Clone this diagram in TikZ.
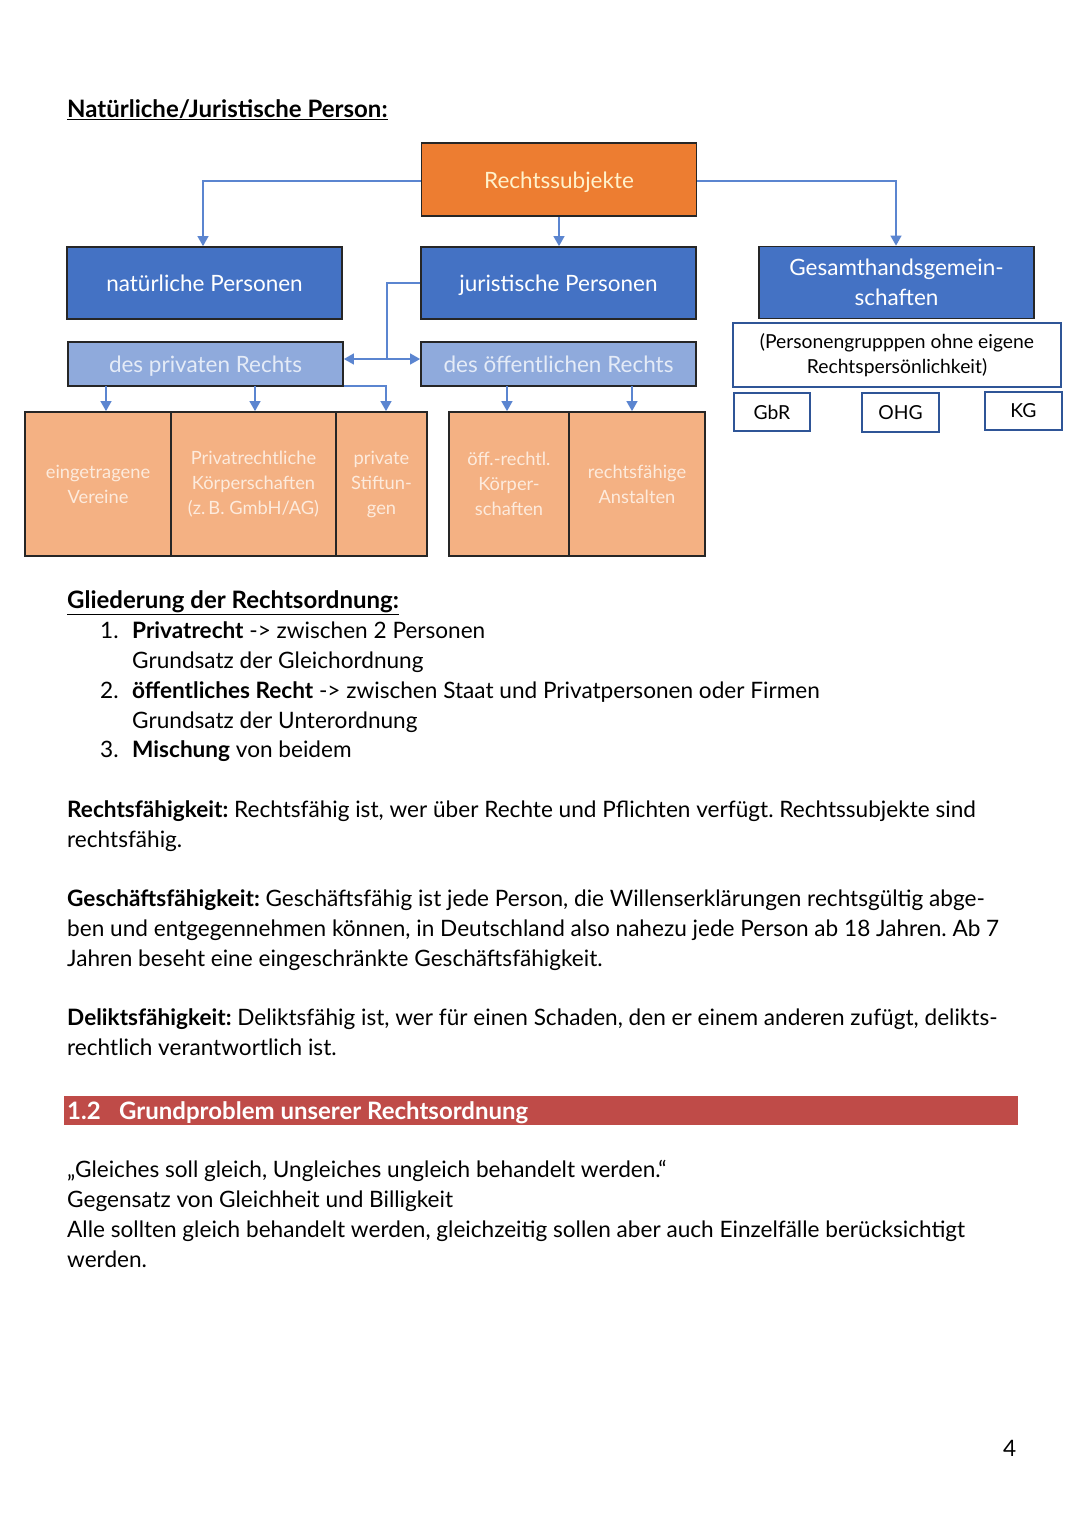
\documentclass[tikz,border=0pt]{standalone}
\usepackage{fontspec}
\setmainfont{Lato}
\usetikzlibrary{arrows.meta}
\definecolor{corange}{HTML}{ED7D31}
\definecolor{cblue}{HTML}{4472C4}
\definecolor{clblue}{HTML}{8FAADC}
\definecolor{cpeach}{HTML}{F4B183}
\definecolor{cline}{HTML}{5B85D0}
\definecolor{cred}{HTML}{BF4B48}
\definecolor{tyellow}{HTML}{FFF2CC}
\definecolor{tpeach}{HTML}{FDEBDD}
\definecolor{tlblue}{HTML}{E4EBF7}
\definecolor{cframe}{HTML}{2F5597}
\frenchspacing
\begin{document}
\begin{tikzpicture}[x=1pt,y=-1pt,
  box/.style={draw=black!85, line width=1.8pt, inner sep=0pt, align=center},
  topbox/.style={box, fill=corange, text=tyellow, minimum width=275pt, minimum height=73pt, text height=17pt, text depth=0pt, font=\fontsize{22.5}{28}\selectfont},
  bluebox/.style={box, fill=cblue, text=white, minimum width=275pt, minimum height=72pt, font=\fontsize{22.5}{30}\selectfont},
  lbox/.style={box, fill=clblue, text=tlblue, minimum width=275pt, minimum height=44pt, text height=16pt, text depth=0pt, font=\fontsize{22.5}{28}\selectfont},
  pbox/.style={box, fill=cpeach, text=tpeach, minimum height=144pt, font=\fontsize{18.3}{25}\selectfont},
  wbox/.style={draw=cframe, line width=1.5pt, fill=white, inner sep=0pt, align=center, font=\fontsize{19.3}{25}\selectfont},
  conn/.style={draw=cline, line width=1.3pt},
  arr/.style={conn, -{Triangle[width=11pt,length=10pt]}},
  txt/.style={inner sep=0pt, anchor=base west, font=\fontsize{22.6}{30}\selectfont},
  head/.style={txt, font=\fontsize{24}{30}\selectfont\bfseries},
]
\useasboundingbox (0,0) rectangle (1080,1527);
\fill[white] (0,0) rectangle (1080,1527);

% heading
\node[head] (h1) at (67,117) {\underline{Natürliche/Juristische Person:}};

% boxes
\node[topbox] (rs) at (559,179.5) {Rechtssubjekte};
\node[bluebox] (np) at (204.5,283) {natürliche Personen};
\node[bluebox, text height=16pt, text depth=0pt] (jp) at (558.5,283) {juristische Personen};
\node[bluebox] (gh) at (896.5,282.5) {Gesamthandsgemein-\\schaften};
\node[lbox] (pr) at (205.5,364) {des privaten Rechts};
\node[lbox] (oe) at (558.5,364) {des öffentlichen Rechts};
\node[wbox, minimum width=328pt, minimum height=64pt] (pg) at (897,355) {(Personengrupppen ohne eigene\\Rechtspersönlichkeit)};
\node[wbox, minimum width=76pt, minimum height=38pt] (gbr) at (772,412) {GbR};
\node[wbox, minimum width=77pt, minimum height=39pt] (ohg) at (900.5,412.5) {OHG};
\node[wbox, minimum width=77pt, minimum height=38pt] (kg) at (1023.5,411) {KG};

\node[pbox, minimum width=146pt] (ev) at (98,484) {eingetragene\\Vereine};
\node[pbox, minimum width=165pt] (pk) at (253.5,484) {Privatrechtliche\\Körperschaften\\(z.\,B. GmbH/AG)};
\node[pbox, minimum width=91pt] (ps) at (381.5,484) {private\\Stiftun-\\gen};
\node[pbox, minimum width=120pt] (ok) at (509,484) {öff.-rechtl.\\Körper-\\schaften};
\node[pbox, minimum width=136pt] (ra) at (637,484) {rechtsfähige\\Anstalten};

% connectors
\coordinate (c1) at (203,181);
\coordinate (c2) at (896,181);
\coordinate (c3) at (387,283);
\coordinate (c4) at (387,359);
\coordinate (c5) at (386,386);
\draw[arr] (rs.west |- c1) -| (np.north -| c1);
\draw[arr] (rs.east |- c2) -| (gh.north -| c2);
\draw[arr] (rs.south) -- (jp.north -| rs.south);
\draw[conn] (jp.west) -- (c3) -- (c4);
\draw[arr] (c4) -- (pr.east |- c4);
\draw[arr] (c4) -- (oe.west |- c4);
\draw[arr] (106,386) -- (ev.north -| 106,0);
\draw[arr] (255,386) -- (pk.north -| 255,0);
\draw[arr] (pr.east |- c5) -- (c5) -- (ps.north -| c5);
\draw[arr] (507,386) -- (ok.north -| 507,0);
\draw[arr] (632,386) -- (ra.north -| 632,0);

% Gliederung
\node[head] (g0) at (67,608) {\underline{Gliederung der Rechtsordnung:}};
\node[txt] (g1n) at (100,638) {1.};
\node[txt] (g1) at (132,638) {\textbf{Privatrecht} -> zwischen 2 Personen};
\node[txt] (g1b) at (132,668) {Grundsatz der Gleichordnung};
\node[txt] (g2n) at (100,698) {2.};
\node[txt] (g2) at (132,698) {\textbf{öffentliches Recht} -> zwischen Staat und Privatpersonen oder Firmen};
\node[txt] (g2b) at (132,728) {Grundsatz der Unterordnung};
\node[txt] (g3n) at (100,757) {3.};
\node[txt] (g3) at (132,757) {\textbf{Mischung} von beidem};

% Rechtsfähigkeit
\node[txt] (r1) at (67,817) {\textbf{Rechtsfähigkeit:} Rechtsfähig ist, wer über Rechte und Pflichten verfügt. Rechtssubjekte sind};
\node[txt] (r2) at (67,847) {rechtsfähig.};

\node[txt] (s1) at (67,906) {\textbf{Geschäftsfähigkeit:} Geschäftsfähig ist jede Person, die Willenserklärungen rechtsgültig abge-};
\node[txt] (s2) at (67,936) {ben und entgegennehmen können, in Deutschland also nahezu jede Person ab 18 Jahren. Ab 7};
\node[txt] (s3) at (67,966) {Jahren beseht eine eingeschränkte Geschäftsfähigkeit.};

\node[txt] (d1) at (67,1025) {\textbf{Deliktsfähigkeit:} Deliktsfähig ist, wer für einen Schaden, den er einem anderen zufügt, delikts-};
\node[txt] (d2) at (67,1055) {rechtlich verantwortlich ist.};

% red bar
\fill[cred] (64,1096) rectangle (1018,1125);
\node[head, text=white] (b1) at (67,1119) {1.2};
\node[head, text=white] (b2) at (119,1119) {Grundproblem unserer Rechtsordnung};

\node[txt] (q1) at (67,1177) {„Gleiches soll gleich, Ungleiches ungleich behandelt werden.“};
\node[txt] (q2) at (67,1207) {Gegensatz von Gleichheit und Billigkeit};
\node[txt] (q3) at (67,1237) {Alle sollten gleich behandelt werden, gleichzeitig sollen aber auch Einzelfälle berücksichtigt};
\node[txt] (q4) at (67,1267) {werden.};

\node[txt] (pn) at (1003,1456) {4};
\end{tikzpicture}
\end{document}
